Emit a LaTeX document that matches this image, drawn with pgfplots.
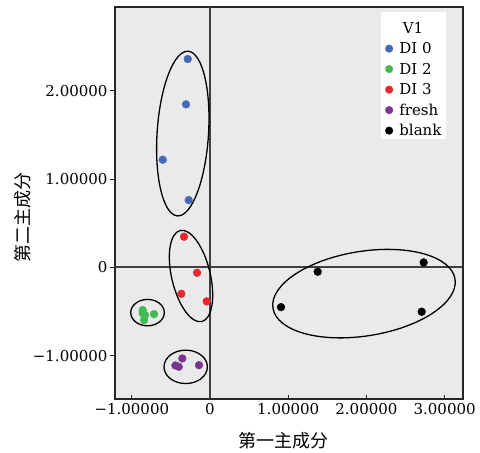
\documentclass[border=0pt]{standalone}
\usepackage{pgfplots}
\pgfplotsset{compat=1.18}
\usepackage{fontspec}
\setmainfont{DejaVu Serif}
\newfontfamily\cjk{Noto Sans CJK SC}
\definecolor{bgc}{HTML}{EAEAEA}
\definecolor{cblue}{HTML}{4568B8}
\definecolor{cgreen}{HTML}{45B853}
\definecolor{cred}{HTML}{E8262B}
\definecolor{cpurple}{HTML}{7A3590}
\newcommand{\st}{\rule[-2bp]{0pt}{14bp}}
\begin{document}
\begin{tikzpicture}
\begin{axis}[
  scale only axis, width=348bp, height=392bp,
  xmin=-1.215, xmax=3.235, ymin=-1.49, ymax=2.948,
  axis background/.style={fill=bgc},
  axis line style={line width=1.8bp, black!85},
  xtick={-1,0,1,2,3}, xticklabels={−1.00000,0,1.00000,2.00000,3.00000},
  ytick={-1,0,1,2}, yticklabels={−1.00000,0,1.00000,2.00000},
  xtick pos=bottom, ytick pos=left,
  tick align=inside, major tick length=4.5bp,
  tick style={line width=1bp, black!85},
  y tick style={xshift=-4.5bp},
  tick label style={font=\fontsize{15bp}{18bp}\selectfont},
  yticklabel style={xshift=-4bp},
  xticklabel style={yshift=-1bp},
  xlabel={\cjk 第一主成分}, ylabel={\cjk 第二主成分},
  every axis x label/.style={at={(axis description cs:0.484,0)}, yshift=-42bp, anchor=center, font=\fontsize{18bp}{20bp}\selectfont},
  every axis y label/.style={at={(axis description cs:0,0.463)}, xshift=-92bp, anchor=center, rotate=90, font=\fontsize{18bp}{20bp}\selectfont},
  legend cell align=left,
  legend image code/.code={\path (-4bp,0bp) (8.5bp,0bp); \draw[mark size=3.8bp] plot coordinates {(0bp,0bp)};},
  legend style={at={(axis description cs:0.953,0.988)}, anchor=north east,
    fill=white, draw=none, font=\fontsize{15bp}{18bp}\selectfont,
    inner xsep=3.5bp, inner ysep=0bp, row sep=4bp,
    nodes={inner sep=1.5bp}},
  clip=false,
]
\addlegendimage{empty legend}\addlegendentry{\rule[-2bp]{0pt}{22bp}\hspace*{3.5bp}V1}
\draw[line width=2.2bp, black!75] (axis cs:0,-1.49) -- (axis cs:0,2.948);
\draw[line width=2.2bp, black!75] (axis cs:-1.215,0) -- (axis cs:3.235,0);
\addplot[only marks, mark=*, mark size=3.9bp, color=cblue] coordinates {
(-0.285,2.359) (-0.307,1.846) (-0.605,1.219) (-0.273,0.762)};
\addlegendentry{\st DI 0}
\addplot[only marks, mark=*, mark size=3.9bp, color=cgreen] coordinates {
(-0.861,-0.483) (-0.831,-0.540) (-0.844,-0.597) (-0.716,-0.529) (-0.86,-0.52)};
\addlegendentry{\st DI 2}
\addplot[only marks, mark=*, mark size=3.9bp, color=cred] coordinates {
(-0.332,0.347) (-0.166,-0.061) (-0.367,-0.299) (-0.043,-0.385)};
\addlegendentry{\st DI 3}
\addplot[only marks, mark=*, mark size=3.9bp, color=cpurple] coordinates {
(-0.354,-1.031) (-0.443,-1.110) (-0.400,-1.125) (-0.141,-1.107)};
\addlegendentry{\st fresh}
\addplot[only marks, mark=*, mark size=3.9bp, color=black] coordinates {
(1.377,-0.049) (2.732,0.056) (0.908,-0.450) (2.707,-0.502)};
\addlegendentry{\st blank}
\draw[line width=1.3bp, rotate around={-3.7:(axis cs:-0.348,1.515)}] (axis cs:-0.348,1.515) ellipse [x radius=25.7bp, y radius=82.5bp];
\draw[line width=1.3bp, rotate around={13.4:(axis cs:-0.243,-0.098)}] (axis cs:-0.243,-0.098) ellipse [x radius=19.3bp, y radius=46.8bp];
\draw[line width=1.3bp] (axis cs:-0.799,-0.512) ellipse [x radius=16.8bp, y radius=13.2bp];
\draw[line width=1.3bp] (axis cs:-0.311,-1.126) ellipse [x radius=21.7bp, y radius=16.7bp];
\draw[line width=1.3bp, rotate around={9.1:(axis cs:1.969,-0.297)}] (axis cs:1.969,-0.297) ellipse [x radius=92.2bp, y radius=42.3bp];
\end{axis}
\path (current axis.south west) ++(-115bp,-53bp) coordinate (bl);
\path (current axis.north east) ++(17bp,7bp) coordinate (tr);
\path (bl) rectangle (tr);
\end{tikzpicture}
\end{document}
